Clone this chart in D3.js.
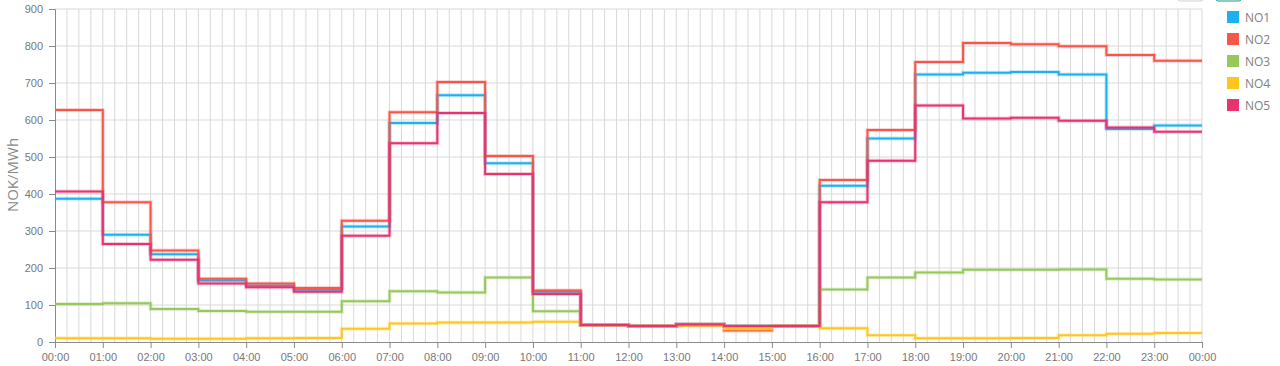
<!DOCTYPE html>
<html>
<head>
<meta charset="utf-8">
<script src="https://cdn.jsdelivr.net/npm/d3@7"></script>
<style>
  body { margin: 0; background: #fff; }
  svg { display: block; font-family: "Open Sans", "Noto Sans", sans-serif; }
</style>
</head>
<body>
<svg id="chart" width="1280" height="366"></svg>
<script>
// hourly prices, NOK/MWh
const hours = d3.range(0, 24)
const NO1 = [387, 290, 237, 166, 153, 141, 312, 592, 667, 483, 136, 46, 43, 47, 43, 43, 422, 550, 723, 728, 730, 723, 576, 585]
const NO2 = [627, 378, 247, 171, 158, 146, 328, 621, 703, 503, 139, 46, 43, 47, 31, 43, 438, 573, 757, 808, 805, 799, 776, 760]
const NO3 = [103, 105, 89, 84, 82, 82, 110, 137, 134, 174, 83, 46, 43, 47, 43, 43, 142, 174, 188, 195, 195, 196, 171, 169]
const NO4 = [10, 10, 9, 9, 10, 11, 36, 50, 53, 53, 55, 46, 43, 44, 35, 43, 37, 18, 10, 10, 11, 18, 22, 24]
const NO5 = [407, 265, 222, 158, 148, 136, 287, 537, 619, 454, 130, 46, 43, 47, 43, 43, 378, 490, 639, 604, 606, 598, 580, 568]
const seriesNames = ["NO1", "NO2", "NO3", "NO4", "NO5"]
const seriesValues = [NO1, NO2, NO3, NO4, NO5]
const colors = ["#1eb1f0", "#f5584a", "#96c85a", "#ffc61e", "#e8336e"]
const yTicks = [0, 100, 200, 300, 400, 500, 600, 700, 800, 900]
const xTickLabels = ["00:00","01:00","02:00","03:00","04:00","05:00","06:00","07:00","08:00","09:00","10:00","11:00",
  "12:00","13:00","14:00","15:00","16:00","17:00","18:00","19:00","20:00","21:00","22:00","23:00","00:00"]

const margin = {top: 9, right: 78, bottom: 24, left: 55}
const width = 1280 - margin.left - margin.right
const height = 366 - margin.top - margin.bottom

const svg = d3.select("#chart")
const g = svg.append("g").attr("transform", "translate(" + margin.left + "," + margin.top + ")")

const x = d3.scaleLinear().domain([0, 24]).range([0, width])
const y = d3.scaleLinear().domain([0, 900]).range([height, 0])

// grid, every quarter hour
g.append("g")
  .selectAll("line")
  .data(d3.range(1, 97))
  .enter().append("line")
    .attr("x1", d => x(d / 4)).attr("x2", d => x(d / 4))
    .attr("y1", 0).attr("y2", height)
    .attr("stroke", "#d9d9d9").attr("stroke-width", 1)
g.append("g")
  .selectAll("line")
  .data(yTicks.slice(1))
  .enter().append("line")
    .attr("x1", 0).attr("x2", width)
    .attr("y1", d => y(d)).attr("y2", d => y(d))
    .attr("stroke", "#d9d9d9").attr("stroke-width", 1)

// axes
const xAxis = g.append("g")
  .attr("transform", "translate(0," + height + ")")
  .call(d3.axisBottom(x).tickValues(d3.range(0, 25)).tickFormat(d => xTickLabels[d]).tickSize(6).tickPadding(5))
const yAxis = g.append("g")
  .call(d3.axisLeft(y).tickValues(yTicks).tickSize(6).tickPadding(6))
for (const ax of [xAxis, yAxis]) {
  ax.select(".domain").attr("stroke", "#8a8a8a")
  ax.selectAll(".tick line").attr("stroke", "#8a8a8a")
  ax.selectAll("text").attr("fill", "#777").style("font-size", "11px")
}

g.append("text")
  .attr("transform", "translate(-37.5,166) rotate(-90)")
  .attr("text-anchor", "middle")
  .attr("fill", "#888")
  .style("font-size", "15px")
  .text("NOK/MWh")

// step lines
const line = d3.line()
  .x(d => x(d[0]))
  .y(d => y(d[1]))
  .curve(d3.curveStepAfter)

seriesValues.forEach((vals, i) => {
  const pts = hours.map(h => [h, vals[h]])
  pts.push([24, vals[23]])
  g.append("path").datum(pts)
    .attr("d", line).attr("fill", "none")
    .attr("stroke", colors[i]).attr("stroke-width", 4).attr("stroke-opacity", 0.25)
  g.append("path").datum(pts)
    .attr("d", line).attr("fill", "none")
    .attr("stroke", colors[i]).attr("stroke-width", 2)
})

// legend
const legend = svg.append("g").attr("transform", "translate(1227,11)")
const items = legend.selectAll("g").data(seriesNames).enter().append("g")
  .attr("transform", (d, i) => "translate(0," + (i * 22) + ")")
items.append("rect").attr("width", 12).attr("height", 12).attr("fill", (d, i) => colors[i])
items.append("text").attr("x", 18).attr("y", 10.5)
  .attr("fill", "#808080").style("font-size", "12px").text(d => d)

// cut-off buttons at the very top
svg.append("rect").attr("x", 1178).attr("y", -3).attr("width", 25).attr("height", 4).attr("rx", 2)
  .attr("fill", "none").attr("stroke", "#d0d0d0")
svg.append("rect").attr("x", 1216).attr("y", -3).attr("width", 25).attr("height", 4).attr("rx", 2)
  .attr("fill", "none").attr("stroke", "#1a9a8a")
</script>
</body>
</html>
